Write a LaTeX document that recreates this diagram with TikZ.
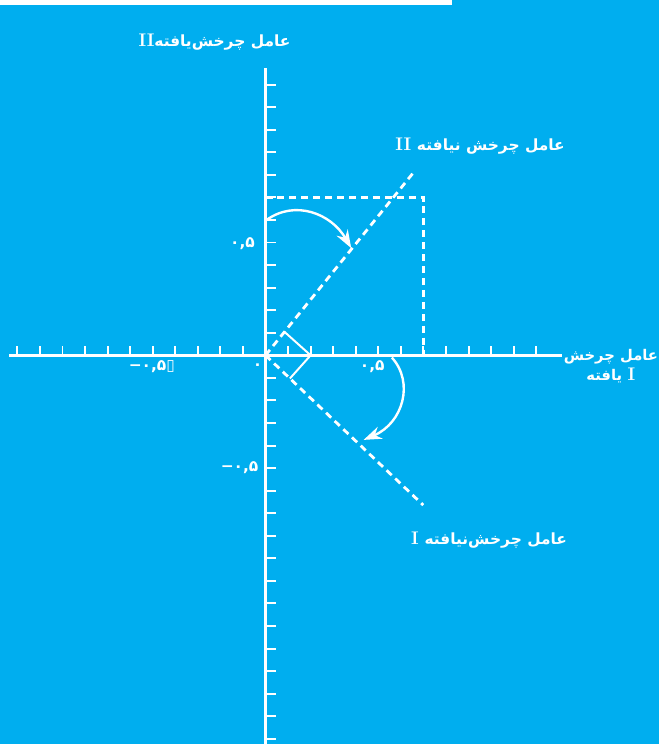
\documentclass[tikz,border=0pt]{standalone}
\usepackage{fontspec}
\usetikzlibrary{arrows.meta}
\TeXXeTstate=1
\newfontfamily\arabicfont[Script=Arabic]{DejaVu Sans}
\newfontfamily\symfont{DejaVu Sans}
\definecolor{FigureCyan}{HTML}{00AEEF}
\newcommand\farsi[1]{{\arabicfont\bfseries\beginR #1\endR}}
\newcommand\minussign{{\symfont\bfseries −}}
\newcommand\romnum[1]{{\fontsize{13}{14}\selectfont\bfseries #1}}

\begin{document}
\begin{tikzpicture}[x=5.65mm,y=5.65mm,
  axis/.style={white,line width=2.1pt},
  tickmark/.style={white,line width=1.4pt},
  dashline/.style={white,line width=2pt,dash pattern=on 5pt off 3.5pt},
  turn/.style={white,line width=1.7pt,-{Stealth[length=4.5mm,width=3.2mm]}},
  lbl/.style={text=white,font=\bfseries\fontsize{11}{14}\selectfont,inner sep=0pt},
  num/.style={text=white,font=\arabicfont\bfseries\fontsize{11}{13}\selectfont,inner sep=0pt}]
  % background and top strip
  \fill[FigureCyan] (-11.77,-17.21) rectangle (17.43,15.75);
  \fill[white] (-11.77,15.53) rectangle (8.27,15.75);
  \coordinate (O) at (0,0);
  \coordinate (Xl) at (-11.35,0); \coordinate (Xr) at (13.14,0);
  \coordinate (Yt) at (0,12.74); \coordinate (Yb) at (0,-17.21);
  % axes and ticks
  \draw[axis] (Xl)--(Xr);
  \draw[axis] (Yb)--(Yt);
  \foreach \i in {-11,...,-1,1,2,...,12} \draw[tickmark] (\i,0)--++(0,.4);
  \foreach \j in {-17,...,-1,1,2,...,12} \draw[tickmark] (0,\j)--++(.45,0);
  % unrotated factors
  \coordinate (IIend) at (6.59,8.14); \coordinate (Iend) at (6.99,-6.64);
  \draw[dashline] (O)--(IIend);
  \draw[dashline] (O)--(Iend);
  \coordinate (Pt) at (0,7); \coordinate (P) at (7,7); \coordinate (Pr) at (7,0);
  \draw[dashline] (Pt)--(P)--(Pr);
  \coordinate (m1) at (.84,1.04); \coordinate (m2) at (2,0); \coordinate (m3) at (1.08,-1.03);
  \draw[tickmark] (m1)--(m2)--(m3);
  % rotation arrows
  \coordinate (a1) at (.05,6); \coordinate (a2) at (3.8,4.75);
  \draw[turn] (a1) .. controls (1.3,6.9) and (2.9,6.3) .. (a2);
  \coordinate (b1) at (5.6,-.1); \coordinate (b2) at (4.35,-3.75);
  \draw[turn] (b1) .. controls (6.6,-1.2) and (6.1,-3) .. (b2);
  % labels
  \node[lbl] (topII) at (-2.26,13.89) {\romnum{II}\farsi{عامل چرخش^^^^200cیافته}};
  \node[lbl] (lblII) at (9.51,9.29) {\romnum{II} \farsi{عامل چرخش نیافته}};
  \node[lbl] (lblI) at (9.91,-8.19) {\romnum{I} \farsi{عامل چرخش^^^^200cنیافته}};
  \node[lbl,align=center,font=\bfseries\fontsize{10.5}{14}\selectfont] (lblX) at (15.31,-.49)
    {\farsi{عامل چرخش}\\\farsi{یافته} \romnum{I}};
  \node[num] (yp) at (-1.02,4.96) {۰,۵};
  \node[num] (yn) at (-1.15,-4.96) {\minussign۰,۵};
  \node[num] (xp) at (4.73,-.49) {۰,۵};
  \node[num] (xn) at (-5.04,-.49) {\minussign۰,۵{\symfont ▯}};
  \node[num] (zero) at (-.35,-.49) {۰};
\end{tikzpicture}
\end{document}
